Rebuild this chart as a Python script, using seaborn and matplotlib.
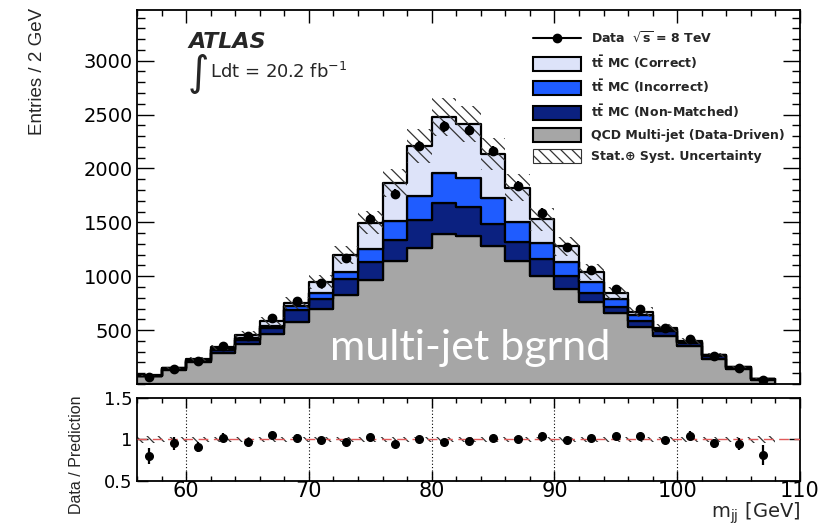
import numpy as np
import pandas as pd
import matplotlib
matplotlib.use("Agg")
import matplotlib.pyplot as plt
import seaborn as sns
from matplotlib.patches import Patch
from matplotlib.lines import Line2D
from matplotlib.ticker import MultipleLocator, FixedLocator, FixedFormatter

# ---------------- data ----------------
bin_edges = list(range(56, 110, 2))          # 56 ... 108
bin_centers = [57, 59, 61, 63, 65, 67, 69, 71, 73, 75, 77, 79, 81,
               83, 85, 87, 89, 91, 93, 95, 97, 99, 101, 103, 105, 107]

qcd = [72, 134, 205, 290, 370, 467, 576, 696, 829, 968, 1137, 1261, 1391,
       1369, 1276, 1137, 998, 884, 761, 659, 530, 449, 350, 233, 138, 38]
non_matched = [4, 7, 12, 25, 40, 53, 114, 93, 145, 160, 201, 256, 287,
               272, 210, 176, 164, 114, 83, 52, 58, 40, 31, 25, 14, 6]
incorrect = [2, 4, 6, 10, 18, 22, 37, 55, 61, 127, 176, 228, 278,
             274, 238, 194, 145, 133, 102, 78, 56, 22, 10, 9, 4, 2]
correct = [3, 5, 10, 16, 28, 39, 25, 102, 164, 243, 349, 463, 518,
           497, 410, 315, 222, 145, 93, 55, 24, 9, 5, 6, 3, 2]

data = [65, 143, 212, 348, 445, 610, 770, 935, 1165, 1535, 1765, 2210, 2390,
        2360, 2160, 1840, 1590, 1270, 1055, 880, 695, 515, 415, 260, 150, 39]
data_err = [8, 12, 15, 19, 21, 25, 28, 31, 34, 39, 42, 47, 49,
            49, 46, 43, 40, 36, 32, 30, 26, 23, 20, 16, 12, 6]
pred_unc = [6, 10, 16, 24, 32, 41, 53, 66, 84, 105, 130, 155, 175,
            170, 150, 128, 107, 89, 73, 59, 47, 36, 28, 19, 11, 4]
ratio_unc = [0.04, 0.035, 0.03, 0.03, 0.03, 0.03, 0.03, 0.03, 0.03, 0.03, 0.03, 0.03, 0.03,
             0.03, 0.03, 0.03, 0.03, 0.03, 0.03, 0.03, 0.03, 0.03, 0.03, 0.03, 0.035, 0.04]

components = ["Correct", "Incorrect", "Non-Matched", "QCD"]
colors = {"Correct": "#dde3f9", "Incorrect": "#1f5cff",
          "Non-Matched": "#0b2180", "QCD": "#a6a6a6"}

legend_labels = [r"Data  $\sqrt{\mathbf{s}}$ = 8 TeV",
                 r"$\mathbf{t\bar{t}}$ MC (Correct)",
                 r"$\mathbf{t\bar{t}}$ MC (Incorrect)",
                 r"$\mathbf{t\bar{t}}$ MC (Non-Matched)",
                 "QCD Multi-jet (Data-Driven)",
                 "Stat.\u2295 Syst. Uncertainty"]

x_ticks = [60, 70, 80, 90, 100, 110]
y_ticks = [500, 1000, 1500, 2000, 2500, 3000]

# ---------------- tables ----------------
df = pd.DataFrame({
    "mjj": bin_centers * 4,
    "count": correct + incorrect + non_matched + qcd,
    "component": (["Correct"] * len(bin_centers) + ["Incorrect"] * len(bin_centers)
                  + ["Non-Matched"] * len(bin_centers) + ["QCD"] * len(bin_centers)),
})
total = np.array(qcd) + np.array(non_matched) + np.array(incorrect) + np.array(correct)
data_a = np.array(data)
ratio = data_a / total
ratio_err = np.array(data_err) / total

# ---------------- style ----------------
sns.set_style("ticks")
plt.rcParams["font.family"] = ["DejaVu Sans"]
plt.rcParams["mathtext.fontset"] = "dejavusans"
plt.rcParams["hatch.linewidth"] = 0.9
plt.rcParams["axes.linewidth"] = 1.3

fig = plt.figure(figsize=(8.37, 5.26), dpi=100)
ax = fig.add_axes([0.1637, 0.2700, 0.7921, 0.7110])
axr = fig.add_axes([0.1637, 0.0856, 0.7921, 0.1577])

# stacked histogram
sns.histplot(data=df, x="mjj", weights="count", hue="component", hue_order=components,
             multiple="stack", bins=bin_edges, element="step", fill=True,
             palette=colors, alpha=1, edgecolor="black", linewidth=1.6,
             legend=False, ax=ax, zorder=2)

# uncertainty hatch
ax.stairs(total + np.array(pred_unc), bin_edges, baseline=total - np.array(pred_unc),
          fill=True, facecolor="none", edgecolor="#333333", hatch="\\\\\\",
          linewidth=0, zorder=3)

# data
ax.errorbar(bin_centers, data, yerr=data_err, fmt="o", color="black", ms=6,
            elinewidth=1.6, capsize=0, zorder=5)

ax.set_xlim(56, 110)
ax.set_ylim(0, 3470)
ax.set_xlabel("")
ax.set_ylabel("")
ax.xaxis.set_major_locator(FixedLocator(x_ticks))
ax.xaxis.set_minor_locator(MultipleLocator(2))
ax.yaxis.set_major_locator(FixedLocator(y_ticks))
ax.yaxis.set_minor_locator(MultipleLocator(100))
ax.tick_params(axis="both", which="both", direction="in", top=True, right=True,
               colors="black", width=1.0)
ax.tick_params(axis="y", which="major", length=12, labelsize=14, pad=3)
ax.tick_params(axis="y", which="minor", length=5.5)
ax.tick_params(axis="x", which="major", length=9, labelbottom=False)
ax.tick_params(axis="x", which="minor", length=4.3)
for s in ax.spines.values():
    s.set_visible(True)
    s.set_color("black")

# legend
handles = [Line2D([0], [0], color="black", marker="o", ms=6, lw=1.5)]
for c in components:
    handles.append(Patch(facecolor=colors[c], edgecolor="black", linewidth=1.5))
handles.append(Patch(facecolor="white", edgecolor="#333333", hatch="\\\\\\", linewidth=0.8))
leg = ax.legend(handles, legend_labels, loc="upper left",
                bbox_to_anchor=(533 / 837, 1 - 31 / 526), bbox_transform=fig.transFigure,
                frameon=False, borderpad=0, borderaxespad=0, handlelength=3.85,
                handleheight=1.36, labelspacing=0.6, handletextpad=0.8,
                prop={"family": ["DejaVu Sans"], "weight": "bold", "size": 9})

# ATLAS labels
fig.text(188 / 837, 1 - 48 / 526, "ATLAS", fontsize=16, fontweight="bold",
         fontstyle="italic", ha="left", va="baseline")
fig.text(187 / 837, 1 - 74 / 526, r"$\int$", fontsize=21, ha="left", va="center")
fig.text(210 / 837, 1 - 78 / 526, r"Ldt = 20.2 fb$^{\mathregular{-1}}$", fontsize=13,
         ha="left", va="baseline")

# overlay text
fig.text(330 / 837, 1 - 360 / 526, "multi-jet bgrnd", fontsize=31, color="white",
         family=["Lato", "DejaVu Sans"], ha="left", va="baseline", zorder=10)

# y labels
fig.text(38 / 837, 1 - 8 / 526, "Entries / 2 GeV", rotation=90, ha="center", va="top",
         fontsize=13.5, family=["Liberation Sans Narrow", "Liberation Sans"])
fig.text(77 / 837, 1 - 395 / 526, "Data / Prediction", rotation=90, ha="center", va="top",
         fontsize=11.5, family=["Liberation Sans Narrow", "Liberation Sans"])

# ---------------- ratio panel ----------------
axr.stairs(1 + np.array(ratio_unc), bin_edges, baseline=1 - np.array(ratio_unc),
           fill=True, facecolor="none", edgecolor="#333333", hatch="\\\\\\",
           linewidth=0, zorder=2)
axr.axhline(1.0, color="#e05a5a", lw=1.0, dashes=(7, 4), zorder=3)
for xv in x_ticks[:-1]:
    axr.axvline(xv, color="black", lw=0.8, ls=(0, (1, 2)), zorder=1)
axr.errorbar(bin_centers, ratio, yerr=ratio_err, fmt="o", color="black", ms=5.5,
             elinewidth=1.6, capsize=0, zorder=5)
axr.set_xlim(56, 110)
axr.set_ylim(0.5, 1.5)
axr.xaxis.set_major_locator(FixedLocator(x_ticks))
axr.xaxis.set_minor_locator(MultipleLocator(2))
axr.yaxis.set_major_locator(FixedLocator([0.5, 1.0, 1.5]))
axr.yaxis.set_major_formatter(FixedFormatter(["0.5", "1", "1.5"]))
axr.yaxis.set_minor_locator(MultipleLocator(0.1))
axr.tick_params(axis="both", which="both", direction="in", top=True, right=True,
                colors="black", width=1.0)
axr.tick_params(axis="x", which="major", length=7, labelsize=15, pad=0)
axr.tick_params(axis="x", which="minor", length=3.5)
axr.tick_params(axis="y", which="major", length=8, labelsize=13, pad=3)
axr.tick_params(axis="y", which="minor", length=0)
for s in axr.spines.values():
    s.set_visible(True)
    s.set_color("black")
axr.set_xlabel("")
axr.set_ylabel("")

fig.text(800 / 837, 1 - 518 / 526, r"m$_{\mathregular{jj}}$ [GeV]", fontsize=14,
         ha="right", va="baseline")

fig.savefig("out.png", dpi=100)
